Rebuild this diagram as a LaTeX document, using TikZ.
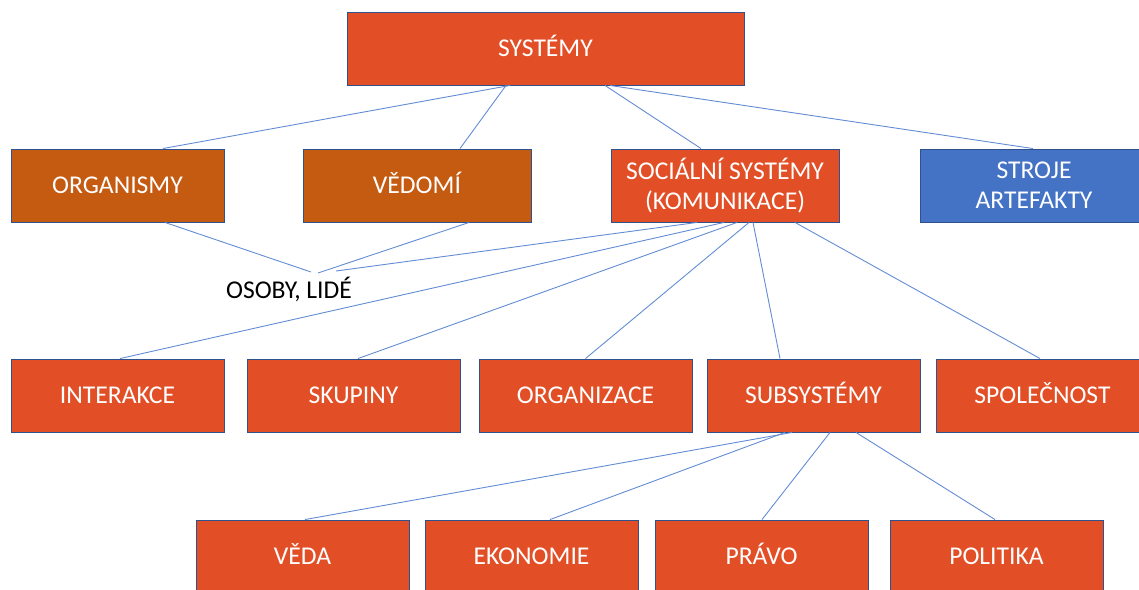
\documentclass[tikz,border=0pt]{standalone}
\usepackage{fontspec}
\setmainfont{Carlito}
\definecolor{boxred}{RGB}{226,79,38}
\definecolor{boxbrown}{RGB}{197,90,17}
\definecolor{boxblue}{RGB}{68,114,196}
\definecolor{boxedge}{RGB}{47,82,143}
\definecolor{linkblue}{RGB}{98,140,212}
\tikzset{
  box/.style={draw=boxedge, line width=0.9pt, fill=boxred, text=white,
    minimum height=73pt, inner sep=0pt, align=center,
    font=\fontsize{25.6}{30}\selectfont},
  wide/.style={box, minimum width=228pt},
  narrow/.style={box, minimum width=213pt},
  onerow/.style={text height=16.5pt, text depth=0pt},
  link/.style={draw=linkblue, line width=0.9pt}
}
\begin{document}
\begin{tikzpicture}[x=1pt, y=-1pt]
\useasboundingbox (0,0) rectangle (1139,589);
\clip (0,0) rectangle (1139,589);

% top level
\node[box, onerow, minimum width=397pt] (sys) at (545.5,48.5) {SYSTÉMY};

% second level
\node[narrow, onerow, fill=boxbrown] (org) at (117.5,185.5) {ORGANISMY};
\node[wide, onerow, fill=boxbrown] (ved) at (417,185.5) {VĚDOMÍ};
\node[wide] (soc) at (725,185.5) {SOCIÁLNÍ SYSTÉMY\\(KOMUNIKACE)};
\node[wide, fill=boxblue] (stroj) at (1034,185.5) {STROJE\\ARTEFAKTY};

% persons
\node[font=\fontsize{25.6}{30}\selectfont, text height=16.5pt, text depth=0pt, inner sep=0pt]
  (osoby) at (289,290) {OSOBY, LIDÉ};
\coordinate (p1) at (311,272);
\coordinate (p2) at (318,273);
\coordinate (p3) at (336,271);

% third level
\node[narrow, onerow] (int) at (117.5,395.5) {INTERAKCE};
\node[narrow, onerow] (sku) at (353.5,395.5) {SKUPINY};
\node[narrow, onerow] (orgz) at (585.5,395.5) {ORGANIZACE};
\node[narrow, onerow] (sub) at (813.5,395.5) {SUBSYSTÉMY};
\node[narrow, onerow] (spol) at (1042.5,395.5) {SPOLEČNOST};

% fourth level
\node[narrow, onerow] (veda) at (302.5,556.5) {VĚDA};
\node[narrow, onerow] (eko) at (531.5,556.5) {EKONOMIE};
\node[narrow, onerow] (pra) at (761.5,556.5) {PRÁVO};
\node[narrow, onerow] (pol) at (996.5,556.5) {POLITIKA};

% connectors
\draw[link] ([xshift=-35.5pt]sys.south) -- ([xshift=45.5pt]org.north);
\draw[link] ([xshift=-39.5pt]sys.south) -- ([xshift=43pt]ved.north);
\draw[link] ([xshift=59.5pt]sys.south) -- ([xshift=-24pt]soc.north);
\draw[link] ([xshift=64.5pt]sys.south) -- ([xshift=-1pt]stroj.north);

\draw[link] ([xshift=47.5pt]org.south) -- (p1);
\draw[link] ([xshift=52pt]ved.south) -- (p2);
\draw[link] ([xshift=-28pt]soc.south) -- (p3);

\draw[link] ([xshift=-1pt]soc.south) -- ([xshift=2.5pt]int.north);
\draw[link] ([xshift=12pt]soc.south) -- ([xshift=4.5pt]sku.north);
\draw[link] ([xshift=24pt]soc.south) -- (orgz.north);
\draw[link] ([xshift=28pt]soc.south) -- ([xshift=-33.5pt]sub.north);
\draw[link] ([xshift=70pt]soc.south) -- ([xshift=-2.5pt]spol.north);

\draw[link] ([xshift=-21.5pt]sub.south) -- ([xshift=2.5pt]veda.north);
\draw[link] ([xshift=-28.5pt]sub.south) -- ([xshift=18.5pt]eko.north);
\draw[link] ([xshift=16.5pt]sub.south) -- ([xshift=0.5pt]pra.north);
\draw[link] ([xshift=42.5pt]sub.south) -- ([xshift=-1.5pt]pol.north);
\end{tikzpicture}
\end{document}
